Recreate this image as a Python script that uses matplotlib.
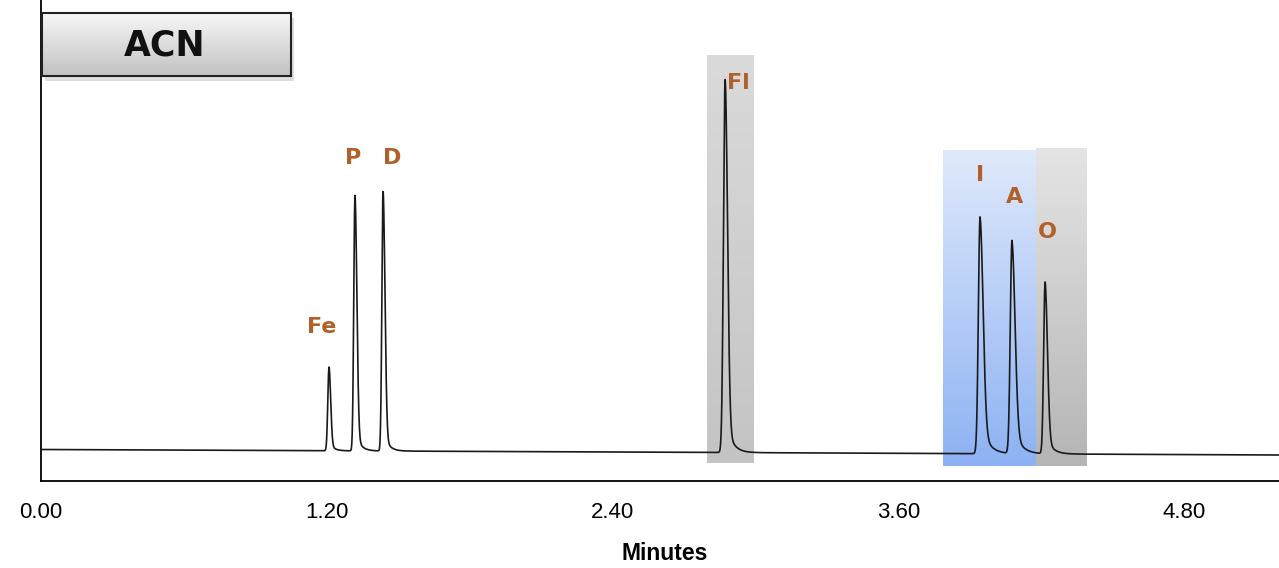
"""
Chromatogram (ACN) with highlighted peak windows.
"""
import numpy as np
import matplotlib
matplotlib.use("Agg")
import matplotlib.pyplot as plt
from matplotlib.patches import Rectangle

# peaks (minutes, signal units above baseline)
peak_names = ["Fe", "P", "D", "Fl", "I", "A", "O"]
peak_times = [1.209, 1.318, 1.436, 2.872, 3.942, 4.076, 4.215]
peak_heights = [84, 256, 260, 373, 237, 213, 172]
sigma_left = [0.005, 0.005, 0.005, 0.007, 0.007, 0.007, 0.006]
sigma_right = [0.007, 0.008, 0.008, 0.010, 0.013, 0.013, 0.010]
tail_frac = [0.10, 0.08, 0.08, 0.10, 0.15, 0.15, 0.12]
tail_tau = [0.018, 0.020, 0.020, 0.025, 0.030, 0.030, 0.025]

baseline_start = 31.5
baseline_end = 26.0
run_minutes = 5.197

xticks = [0.0, 1.2, 2.4, 3.6, 4.8]
xtick_labels = ["0.00", "1.20", "2.40", "3.60", "4.80"]

LABEL_COLOR = "#b0602a"


def build_trace():
    t = np.linspace(0, run_minutes, 6000)
    y = baseline_start + (baseline_end - baseline_start) * t / run_minutes
    for t0, h, sl, sr, f, tau in zip(peak_times, peak_heights, sigma_left,
                                     sigma_right, tail_frac, tail_tau):
        dt = t - t0
        left = np.exp(-dt ** 2 / (2 * sl ** 2))
        right = (1 - f) * np.exp(-dt ** 2 / (2 * sr ** 2)) + f * np.exp(-np.clip(dt, 0, None) / tau)
        y += h * np.where(dt < 0, left, right)
    return t, y


def gradient_box(ax, x0, x1, y0, y1, top, bottom, z=0):
    top = np.array(matplotlib.colors.to_rgb(top))
    bottom = np.array(matplotlib.colors.to_rgb(bottom))
    ramp = np.linspace(0, 1, 64)[:, None]
    img = top * (1 - ramp[..., None]) + bottom * ramp[..., None]
    ax.imshow(img, extent=(x0, x1, y0, y1), origin="upper", aspect="auto",
              zorder=z, interpolation="bilinear")


t, y = build_trace()

fig = plt.figure(figsize=(12.79, 5.68), dpi=100)
ax = fig.add_axes([41 / 1279, 87 / 568, 1 - 41 / 1279, 481 / 568])

# highlighted windows
gradient_box(ax, 2.796, 2.993, 18, 426, "#dadada", "#c4c4c4", z=1)
gradient_box(ax, 3.787, 4.177, 15, 331, "#dfe9fb", "#8db2f3", z=1)
gradient_box(ax, 4.177, 4.387, 15, 333, "#e4e4e4", "#b5b5b5", z=1)

ax.plot(t, y, color="#1a1a1a", linewidth=1.2, zorder=3)

label_xy = [(1.180, 154), (1.310, 323), (1.474, 323), (2.927, 398),
            (3.942, 306), (4.085, 284), (4.225, 249)]
for name, (lx, ly) in zip(peak_names, label_xy):
    ax.text(lx, ly, name, color=LABEL_COLOR, fontsize=16, fontweight="bold",
            ha="center", va="center", zorder=4)

# title box with a faint drop shadow
ax.add_patch(Rectangle((0.016, 400), 1.046, 63, facecolor="#dddddd",
                       edgecolor="none", zorder=1.5))
gradient_box(ax, 0.004, 1.050, 405, 468, "#f7f7f7", "#c2c2c2", z=2)
ax.add_patch(Rectangle((0.004, 405), 1.046, 63, fill=False, edgecolor="#222222",
                       linewidth=1.5, zorder=3))
ax.text(0.52, 436, "ACN", fontsize=25, fontweight="bold", ha="center",
        va="center", color="#111111", zorder=4)

ax.set_xlim(0, run_minutes)
ax.set_ylim(0, 481)
ax.set_xticks(xticks)
ax.set_xticklabels(xtick_labels, family="Liberation Sans", fontsize=16)
ax.tick_params(axis="x", length=0, pad=15)
ax.set_yticks([])
ax.spines["top"].set_visible(False)
ax.spines["right"].set_visible(False)
ax.spines["left"].set_linewidth(1.3)
ax.spines["bottom"].set_linewidth(1.3)

fig.text(665 / 1279, 1 - 553 / 568, "Minutes", family="Liberation Sans",
         fontsize=16.5, fontweight="bold", ha="center", va="center")

fig.savefig("out.png", dpi=100)
